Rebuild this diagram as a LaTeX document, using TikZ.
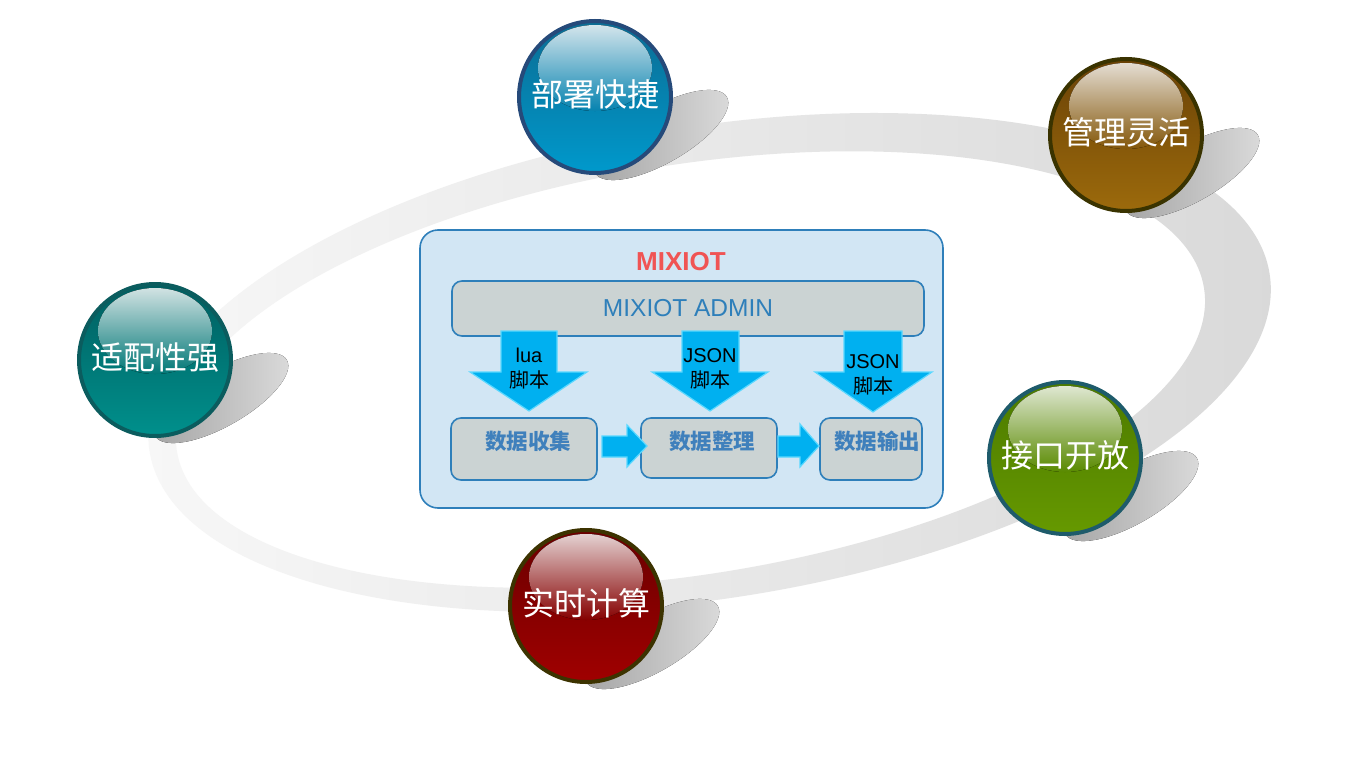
\documentclass[tikz,border=0pt]{standalone}
\usepackage{fontspec}
\setmainfont{Liberation Sans}
\newfontfamily\cjk{Noto Sans CJK SC}
\definecolor{boxblue}{HTML}{2E7FBA}
\definecolor{labelblue}{HTML}{3F80BC}
\definecolor{panelblue}{HTML}{D2E6F4}
\definecolor{boxgray}{HTML}{CBD3D3}
\definecolor{titlered}{HTML}{F05454}
\definecolor{arrowcyan}{HTML}{00B0F0}
\definecolor{arrowedge}{HTML}{5AD8FF}
\definecolor{bluetop}{HTML}{0B6C93}
\definecolor{bluebot}{HTML}{0099CC}
\definecolor{bluebd}{HTML}{264A7A}
\definecolor{browntop}{HTML}{6A4206}
\definecolor{brownbot}{HTML}{9C6A0C}
\definecolor{brownbd}{HTML}{3A3300}
\definecolor{tealtop}{HTML}{005E60}
\definecolor{tealbot}{HTML}{00908C}
\definecolor{tealbd}{HTML}{0B5C5E}
\definecolor{greentop}{HTML}{4C7A00}
\definecolor{greenbot}{HTML}{669900}
\definecolor{greenbd}{HTML}{1E5B6B}
\definecolor{redtop}{HTML}{6A0000}
\definecolor{redbot}{HTML}{A00000}
\definecolor{redbd}{HTML}{3C3300}
\tikzset{
  sphere/.style={circle, minimum size=152pt, inner sep=0pt, line width=4pt},
  spheretext/.style={text=white, font=\cjk\fontsize{32}{32}\selectfont, inner sep=0pt},
  graybox/.style={draw=boxblue, line width=1.6pt, fill=boxgray, rounded corners=10pt, inner sep=0pt},
  boxlabel/.style={text=labelblue, font=\cjk\bfseries\fontsize{21.5}{21.5}\selectfont, inner sep=0pt},
  blockarrow/.style={fill=arrowcyan, draw=arrowedge, line width=1.2pt, line join=miter},
  arrowtext/.style={align=center, font=\fontsize{20}{25}\selectfont, inner sep=0pt, text=black}
}
\begin{document}
\begin{tikzpicture}[x=1pt,y=-1pt]
\useasboundingbox (0,0) rectangle (1354,768);
\fill[white] (0,0) rectangle (1354,768);
% ring (thicker on the right)
\path[even odd rule, left color=black!3, right color=black!15, rotate around={9:(700,366)}]
  (710,364) ellipse [x radius=567pt, y radius=236pt]
  (690,368) ellipse [x radius=520pt, y radius=205pt];
% spheres
\foreach \n/\cx/\cy/\t/\ca/\cb/\bd in {
  deploy/595/97/部署快捷/bluetop/bluebot/bluebd,
  manage/1126/135/管理灵活/browntop/brownbot/brownbd,
  adapt/155/360/适配性强/tealtop/tealbot/tealbd,
  iface/1065/458/接口开放/greentop/greenbot/greenbd,
  realtime/586/606/实时计算/redtop/redbot/redbd}{
  \fill[left color=black!36, right color=black!14, rotate around={30:(\cx+66,\cy+38)}]
    (\cx+66,\cy+38) ellipse [x radius=76pt, y radius=28pt];
  \node[sphere, draw=\bd, top color=\ca, bottom color=\cb] (\n) at (\cx,\cy) {};
  \fill[top color=white!82!\ca, bottom color=\ca!50!\cb] (\cx,\cy-29) ellipse [x radius=57pt, y radius=43pt];
  \node[spheretext] (\n-t) at (\cx,\cy-3) {\t};
}
% central panel
\node[draw=boxblue, line width=1.6pt, fill=panelblue, rounded corners=18pt,
      minimum width=523pt, minimum height=278pt, inner sep=0pt] (panel) at (681.5,369) {};
\node[text=titlered, font=\bfseries\fontsize{26}{26}\selectfont, inner sep=0pt] (title) at (681,262) {MIXIOT};
\node[graybox, minimum width=472pt, minimum height=55pt, text=boxblue,
      font=\fontsize{24.5}{24.5}\selectfont] (admin) at (688,308.5) {MIXIOT ADMIN};
% down arrows
\draw[blockarrow] (501,331) -- (557,331) -- (557,372) -- (587,372) -- (529,411) -- (470,372) -- (501,372) -- cycle;
\draw[blockarrow] (682,331) -- (739,331) -- (739,372) -- (768,372) -- (710,411) -- (652,372) -- (682,372) -- cycle;
\draw[blockarrow] (844,331) -- (902,331) -- (902,372) -- (932,372) -- (873,412) -- (815,372) -- (844,372) -- cycle;
\node[arrowtext] (a1) at (529,369) {lua\\{\cjk 脚本}};
\node[arrowtext] (a2) at (710,369) {JSON\\{\cjk 脚本}};
\node[arrowtext] (a3) at (873,375) {JSON\\{\cjk 脚本}};
% bottom boxes
\node[graybox, minimum width=146pt, minimum height=62pt] (collect) at (524,449) {};
\node[graybox, minimum width=136pt, minimum height=60pt] (arrange) at (709,448) {};
\node[graybox, minimum width=102pt, minimum height=62pt] (output) at (871,449) {};
\node[boxlabel] (collect-t) at (528,441) {数据收集};
\node[boxlabel] (arrange-t) at (712,441) {数据整理};
\node[boxlabel] (output-t) at (877,441) {数据输出};
% right arrows
\draw[blockarrow] (602,436) -- (627,436) -- (627,425) -- (647,446) -- (627,467) -- (627,457) -- (602,457) -- cycle;
\draw[blockarrow] (778,436) -- (800,436) -- (800,424) -- (819,446) -- (800,467) -- (800,457) -- (778,457) -- cycle;
\end{tikzpicture}
\end{document}
